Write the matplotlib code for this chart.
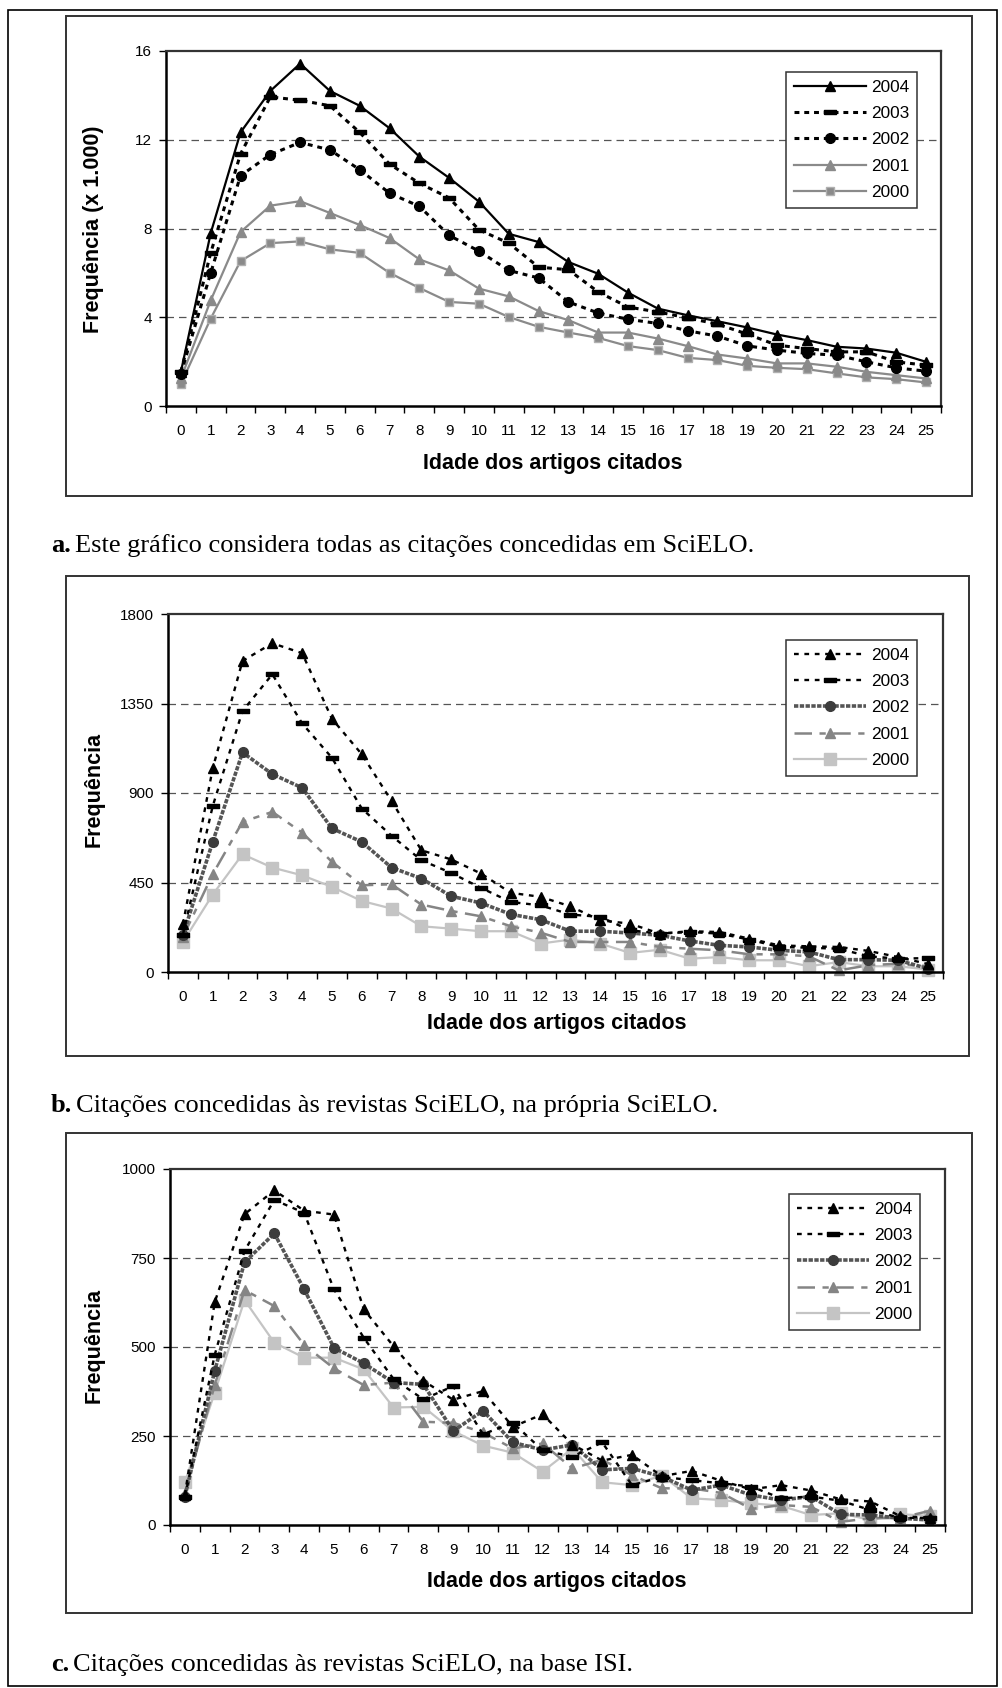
import matplotlib
matplotlib.use("Agg")
import matplotlib.pyplot as plt
from matplotlib.patches import Rectangle

plt.rcParams["font.family"] = ["Liberation Sans", "DejaVu Sans"]

# %% Data

ages = list(range(26))
years = ["2004", "2003", "2002", "2001", "2000"]

# a. all citations in SciELO (x 1.000)
a_2004 = [1.54, 7.79, 12.33, 14.2, 15.43, 14.2, 13.53, 12.52, 11.24, 10.28, 9.21, 7.76, 7.39,
          6.49, 5.96, 5.11, 4.39, 4.09, 3.82, 3.54, 3.22, 2.97, 2.67, 2.59, 2.40, 1.99]
a_2003 = [1.54, 6.9, 11.36, 13.93, 13.78, 13.53, 12.33, 10.9, 10.04, 9.38, 7.94, 7.34, 6.26,
          6.14, 5.14, 4.46, 4.24, 3.97, 3.69, 3.24, 2.74, 2.59, 2.44, 2.44, 1.99, 1.84]
a_2002 = [1.45, 6.0, 10.38, 11.33, 11.88, 11.54, 10.65, 9.59, 9.0, 7.69, 6.98, 6.11, 5.77,
          4.69, 4.19, 3.91, 3.72, 3.39, 3.15, 2.71, 2.52, 2.37, 2.29, 1.99, 1.72, 1.57]
a_2001 = [1.24, 4.76, 7.84, 9.03, 9.23, 8.7, 8.16, 7.57, 6.61, 6.11, 5.29, 4.94, 4.28,
          3.87, 3.31, 3.31, 3.04, 2.70, 2.32, 2.14, 1.92, 1.92, 1.77, 1.54, 1.39, 1.24]
a_2000 = [0.99, 3.94, 6.53, 7.34, 7.42, 7.06, 6.9, 6.0, 5.32, 4.69, 4.61, 4.01, 3.57,
          3.31, 3.07, 2.70, 2.52, 2.17, 2.07, 1.81, 1.72, 1.66, 1.47, 1.29, 1.21, 1.06]

# b. citations to SciELO journals, inside SciELO
b_2004 = [240, 1024, 1564, 1653, 1603, 1273, 1095, 860, 612, 566, 495, 398, 378,
          330, 260, 243, 193, 205, 201, 168, 134, 129, 126, 106, 75, 40]
b_2003 = [188, 834, 1312, 1497, 1250, 1077, 822, 685, 562, 498, 423, 352, 335,
          289, 277, 210, 193, 201, 193, 163, 126, 122, 117, 79, 67, 70]
b_2002 = [185, 654, 1104, 995, 926, 722, 654, 525, 470, 381, 347, 290, 263,
          205, 205, 196, 185, 156, 134, 126, 109, 101, 62, 62, 59, 17]
b_2001 = [176, 492, 755, 805, 701, 554, 436, 441, 339, 307, 280, 230, 198,
          151, 151, 151, 126, 117, 109, 89, 89, 79, 8, 34, 42, 25]
b_2000 = [151, 389, 592, 525, 486, 428, 357, 319, 230, 218, 205, 205, 143,
          163, 143, 96, 112, 67, 75, 59, 59, 29, 50, 29, 29, 12]

# c. citations to SciELO journals, in the ISI base
c_2004 = [85, 626, 873, 940, 883, 872, 606, 502, 405, 352, 376, 276, 311,
          226, 181, 197, 137, 152, 124, 100, 112, 97, 72, 66, 25, 20]
c_2003 = [78, 478, 770, 913, 877, 662, 526, 410, 353, 390, 255, 287, 210,
          192, 232, 112, 135, 126, 117, 108, 75, 80, 68, 42, 20, 20]
c_2002 = [80, 433, 738, 819, 662, 498, 454, 400, 395, 264, 321, 232, 211,
          225, 155, 159, 136, 98, 112, 84, 70, 80, 30, 28, 19, 14]
c_2001 = [89, 393, 660, 615, 506, 440, 393, 400, 290, 287, 260, 215, 229,
          159, 183, 140, 103, 103, 90, 45, 56, 51, 9, 19, 20, 40]
c_2000 = [120, 372, 632, 512, 470, 470, 437, 330, 332, 264, 223, 203, 150,
          215, 120, 112, 139, 75, 70, 61, 54, 28, 33, 14, 30, 26]

xlabel = "Idade dos artigos citados"
captions = [
    ("a.", "Este gráfico considera todas as citações concedidas em SciELO."),
    ("b.", "Citações concedidas às revistas SciELO, na própria SciELO."),
    ("c.", "Citações concedidas às revistas SciELO, na base ISI."),
]

# %% Styles

rect_marker = [(-1, -0.42), (1, -0.42), (1, 0.42), (-1, 0.42), (-1, -0.42)]
dots = (0, (1.6, 1.6))

style_a = {
    "2004": dict(color="black", ls="-", lw=1.6, marker="^", ms=7, mfc="black", mec="black"),
    "2003": dict(color="black", ls=dots, lw=2.2, marker=rect_marker, ms=8, mfc="black", mec="black"),
    "2002": dict(color="black", ls=dots, lw=2.2, marker="o", ms=7, mfc="black", mec="black"),
    "2001": dict(color="#8a8a8a", ls="-", lw=1.6, marker="^", ms=6.5, mfc="#8a8a8a", mec="#8a8a8a"),
    "2000": dict(color="#8a8a8a", ls="-", lw=1.6, marker="s", ms=5.5, mfc="#8a8a8a", mec="#b0b0b0"),
}
style_bc = {
    "2004": dict(color="black", ls=(0, (2, 2.4)), lw=1.7, marker="^", ms=7.5, mfc="black", mec="black"),
    "2003": dict(color="black", ls=(0, (2, 2.4)), lw=1.7, marker=rect_marker, ms=8, mfc="black", mec="black"),
    "2002": dict(color="#555555", ls=(0, (1.2, 0.4)), lw=2.6, marker="o", ms=7, mfc="#3c3c3c", mec="#3c3c3c"),
    "2001": dict(color="#858585", ls=(0, (7, 3, 2.5, 3)), lw=1.8, marker="^", ms=7, mfc="#858585", mec="#858585"),
    "2000": dict(color="#c4c4c4", ls="-", lw=1.6, marker="s", ms=9, mfc="#c4c4c4", mec="#c4c4c4"),
}

W, H = 1003, 1688
fig = plt.figure(figsize=(W / 100, H / 100), dpi=100)


def fig_rect(l, t, r, b):
    return [l / W, 1 - b / H, (r - l) / W, (b - t) / H]


def draw_panel(series, styles, ylim, yticks, ylabel, box, plot, legend_tr,
               xlab_xy, ylab_xy, caption, cap_xy):
    # Excel chart border
    l, t, r, b = box
    fig.patches.append(Rectangle((l / W, 1 - b / H), (r - l) / W, (b - t) / H,
                                 transform=fig.transFigure, fill=False,
                                 ec="#333333", lw=1.4))
    ax = fig.add_axes(fig_rect(*plot))
    handles = {}
    for yr in reversed(years):
        (h,) = ax.plot(ages, series[yr], label=yr, clip_on=False, **styles[yr])
        handles[yr] = h
    ax.set_xlim(-0.5, 25.5)
    ax.set_ylim(*ylim)
    ax.set_xticks(ages)
    ax.set_xticklabels([str(a) for a in ages])
    ax.set_xticks([i - 0.5 for i in range(27)], minor=True)
    ax.tick_params(axis="x", which="major", length=0, pad=13, labelsize=11)
    ax.tick_params(axis="x", which="minor", length=5, width=1, direction="out")
    ax.set_yticks(yticks)
    ax.set_yticklabels([str(v) for v in yticks])
    ax.tick_params(axis="y", length=5, width=1, direction="out", pad=5, labelsize=11)
    for v in yticks[1:-1]:
        ax.axhline(v, color="#555555", lw=0.9, ls=(0, (6, 4)), zorder=0)
    for s in ["left", "bottom"]:
        ax.spines[s].set_linewidth(1.8)
        ax.spines[s].set_color("black")
    for s in ["top", "right"]:
        ax.spines[s].set_linewidth(1.6)
        ax.spines[s].set_color("#333333")
    leg = ax.legend([handles[y] for y in years], years,
                    loc="upper right",
                    bbox_to_anchor=(legend_tr[0] / W, 1 - legend_tr[1] / H),
                    bbox_transform=fig.transFigure,
                    fontsize=12.4, frameon=True, fancybox=False, framealpha=1,
                    edgecolor="#333333", borderpad=0.45, labelspacing=0.65,
                    handlelength=4.15, handletextpad=0.3, borderaxespad=0)
    leg.get_frame().set_linewidth(1.1)
    fig.text(xlab_xy[0] / W, 1 - xlab_xy[1] / H, xlabel, ha="center", va="center",
             fontsize=15.5, fontweight="bold")
    fig.text(ylab_xy[0] / W, 1 - ylab_xy[1] / H, ylabel, ha="center", va="center",
             rotation=90, fontsize=15.5, fontweight="bold")
    t1 = fig.text(cap_xy[0] / W, 1 - cap_xy[1] / H, caption[0], ha="left",
                  va="baseline", fontsize=19, fontweight="bold",
                  family=["Liberation Serif", "DejaVu Serif"])
    ax.annotate(caption[1], xy=(1, 0), xycoords=t1, xytext=(3, 0),
                textcoords="offset points", ha="left", va="bottom",
                fontsize=19, family=["Liberation Serif", "DejaVu Serif"],
                annotation_clip=False)
    return ax


draw_panel({"2004": a_2004, "2003": a_2003, "2002": a_2002, "2001": a_2001, "2000": a_2000},
           style_a, (0, 16), [0, 4, 8, 12, 16], "Frequência (x 1.000)",
           box=(66, 16, 972, 496), plot=(166, 51, 941, 406), legend_tr=(917, 72),
           xlab_xy=(553, 464), ylab_xy=(93, 229), caption=captions[0], cap_xy=(51, 552))

draw_panel({"2004": b_2004, "2003": b_2003, "2002": b_2002, "2001": b_2001, "2000": b_2000},
           style_bc, (0, 1800), [0, 450, 900, 1350, 1800], "Frequência",
           box=(66, 576, 969, 1056), plot=(168, 614, 943, 972), legend_tr=(917, 640),
           xlab_xy=(557, 1024), ylab_xy=(94, 789), caption=captions[1], cap_xy=(51, 1112))

draw_panel({"2004": c_2004, "2003": c_2003, "2002": c_2002, "2001": c_2001, "2000": c_2000},
           style_bc, (0, 1000), [0, 250, 500, 750, 1000], "Frequência",
           box=(66, 1133, 972, 1613), plot=(170, 1169, 945, 1525), legend_tr=(920, 1194),
           xlab_xy=(557, 1582), ylab_xy=(94, 1345), caption=captions[2], cap_xy=(51, 1671))

# outer page frame
fig.patches.append(Rectangle((8 / W, 1 - 1686 / H), (997 - 8) / W, (1686 - 10) / H,
                             transform=fig.transFigure, fill=False, ec="black", lw=1.2))

fig.savefig("out.png", dpi=100)
